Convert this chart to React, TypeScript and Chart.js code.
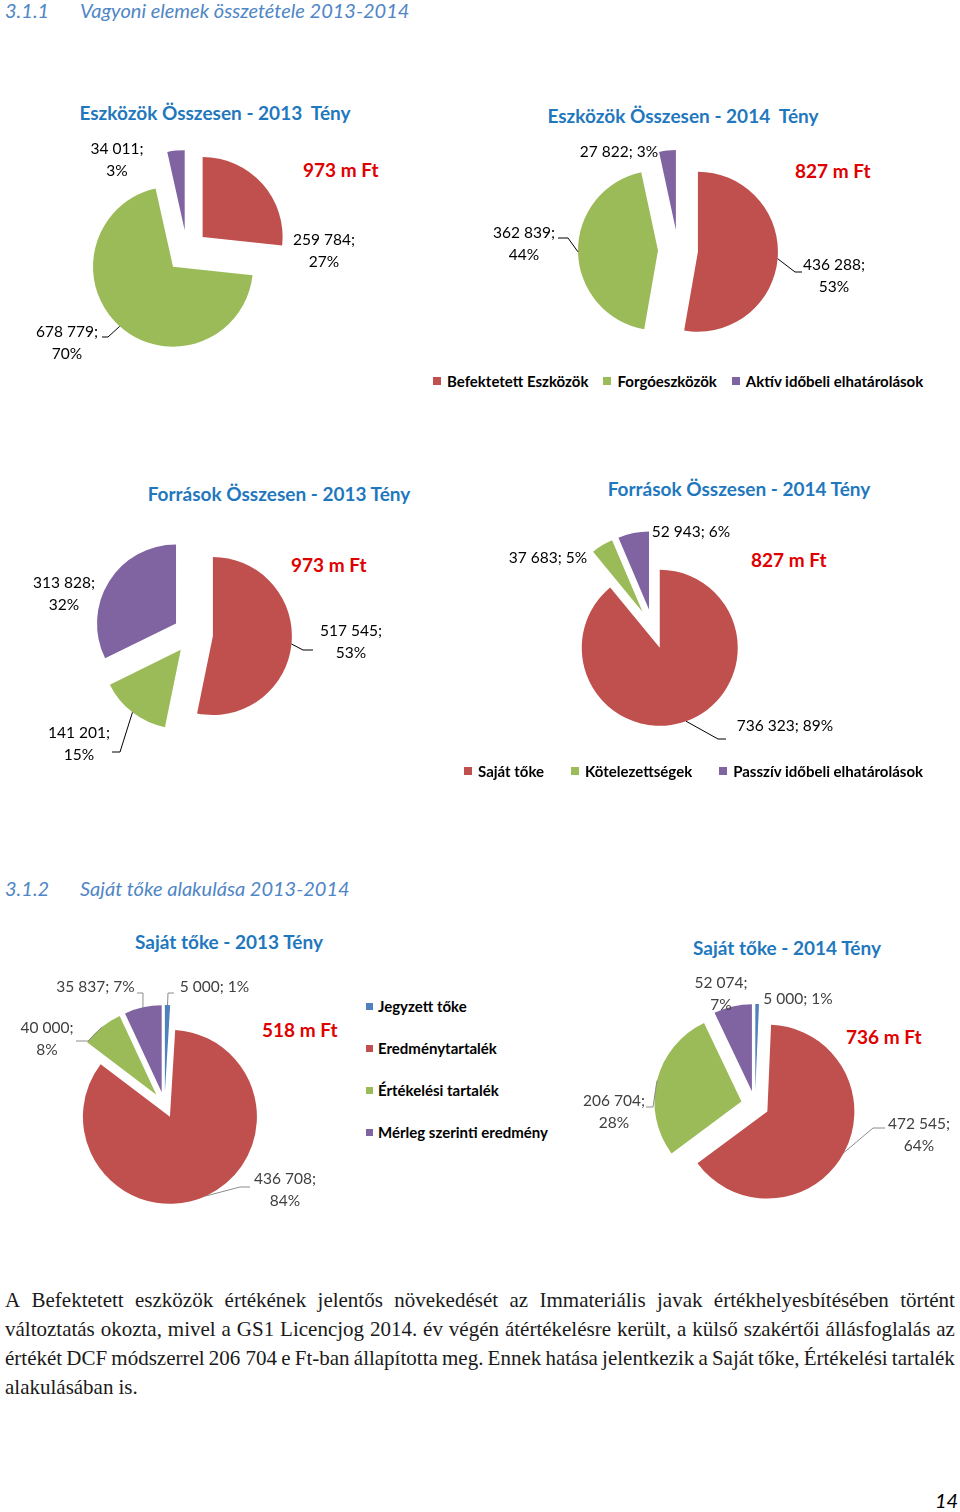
import React, { useEffect, useRef } from 'react';
import { Chart, registerables } from 'chart.js';

Chart.register(...registerables);

const RED = '#C0504D';
const GREEN = '#9BBB59';
const PURPLE = '#8064A2';
const BLUE = '#4F81BD';
const TITLE_BLUE = '#1F78BE';
const HEAD_BLUE = '#4F86C6';
const TOTAL_RED = '#E00000';
const FONT = 'Lato, "Open Sans", sans-serif';

// ---------- data ----------
const assetCategories = ['Befektetett Eszközök', 'Forgóeszközök', 'Aktív időbeli elhatárolások'];
const assets2013 = [259784, 678779, 34011];
const assets2014 = [436288, 362839, 27822];

const sourceCategories = ['Saját tőke', 'Kötelezettségek', 'Passzív időbeli elhatárolások'];
const sources2013 = [517545, 141201, 313828];
const sources2014 = [736323, 37683, 52943];

const equityCategories = ['Jegyzett tőke', 'Eredménytartalék', 'Értékelési tartalék', 'Mérleg szerinti eredmény'];
const equity2013 = [5000, 436708, 40000, 35837];
const equity2014 = [5000, 472545, 206704, 52074];

const threeColors = [RED, GREEN, PURPLE];
const fourColors = [BLUE, RED, GREEN, PURPLE];

const paragraphLines = [
  'A Befektetett eszközök értékének jelentős növekedését az Immateriális javak értékhelyesbítésében történt',
  'változtatás okozta, mivel a GS1 Licencjog 2014. év végén átértékelésre került, a külső szakértői állásfoglalás az',
  'értékét DCF módszerrel 206\u00a0704 e Ft-ban állapította meg. Ennek hatása jelentkezik a Saját tőke, Értékelési tartalék',
  'alakulásában is.',
];

// ---------- helpers ----------
const fmt = (v: number) => String(v).replace(/\B(?=(\d{3})+(?!\d))/g, ' ');
const sum = (a: number[]) => a.reduce((s, v) => s + v, 0);

interface LabelSpec {
  x: number;
  y: number;
  split: boolean;
  leader?: number[][];
}

interface PieSpec {
  title: string;
  titleX: number;
  titleY: number;
  totalX: number;
  totalY: number;
  categories: string[];
  values: number[];
  colors: string[];
  box: { left: number; top: number; width: number; height: number };
  center: [number, number];
  radius: number;
  explode: number;
  labels: LabelSpec[];
  textColor: string;
  lineColor: string;
}

const pies: PieSpec[] = [
  {
    title: 'Eszközök Összesen - 2013  Tény',
    titleX: 215, titleY: 113, totalX: 303, totalY: 170,
    categories: assetCategories, values: assets2013, colors: threeColors,
    box: { left: 0, top: 130, width: 480, height: 235 },
    center: [187, 251], radius: 80, explode: 21,
    labels: [
      { x: 324, y: 240, split: true },
      { x: 67, y: 332, split: true, leader: [[108, 337], [102, 337]] },
      { x: 117, y: 149, split: true },
    ],
    textColor: '#000', lineColor: '#000',
  },
  {
    title: 'Eszközök Összesen - 2014  Tény',
    titleX: 683, titleY: 116, totalX: 795, totalY: 171,
    categories: assetCategories, values: assets2014, colors: threeColors,
    box: { left: 480, top: 130, width: 480, height: 235 },
    center: [678, 250], radius: 80, explode: 20,
    labels: [
      { x: 834, y: 265, split: true, leader: [[795, 272], [802, 272]] },
      { x: 524, y: 233, split: true, leader: [[568, 238], [558, 238]] },
      { x: 619, y: 152, split: false },
    ],
    textColor: '#000', lineColor: '#000',
  },
  {
    title: 'Források Összesen - 2013 Tény',
    titleX: 279, titleY: 494, totalX: 291, totalY: 565,
    categories: sourceCategories, values: sources2013, colors: threeColors,
    box: { left: 0, top: 520, width: 480, height: 250 },
    center: [193, 634], radius: 79, explode: 20,
    labels: [
      { x: 351, y: 631, split: true, leader: [[303, 650], [313, 650]] },
      { x: 79, y: 733, split: true, leader: [[120, 752], [112, 752]] },
      { x: 64, y: 583, split: true },
    ],
    textColor: '#000', lineColor: '#000',
  },
  {
    title: 'Források Összesen - 2014 Tény',
    titleX: 739, titleY: 489, totalX: 751, totalY: 560,
    categories: sourceCategories, values: sources2014, colors: threeColors,
    box: { left: 480, top: 515, width: 480, height: 240 },
    center: [653, 629], radius: 78, explode: 20,
    labels: [
      { x: 785, y: 726, split: false, leader: [[718, 739], [726, 739]] },
      { x: 548, y: 558, split: false },
      { x: 691, y: 532, split: false },
    ],
    textColor: '#000', lineColor: '#000',
  },
  {
    title: 'Saját tőke - 2013 Tény',
    titleX: 229, titleY: 942, totalX: 262, totalY: 1030,
    categories: equityCategories, values: equity2013, colors: fourColors,
    box: { left: 0, top: 970, width: 360, height: 250 },
    center: [164.5, 1105], radius: 87, explode: 13,
    labels: [
      { x: 214.5, y: 987, split: false, leader: [[168, 993], [174, 993]] },
      { x: 285, y: 1179, split: true, leader: [[240, 1187], [250, 1187]] },
      { x: 47, y: 1028, split: true, leader: [[88, 1041], [76, 1041]] },
      { x: 95.5, y: 987, split: false, leader: [[143, 993], [137, 993]] },
    ],
    textColor: '#404040', lineColor: '#8c8c8c',
  },
  {
    title: 'Saját tőke - 2014 Tény',
    titleX: 787, titleY: 948, totalX: 846, totalY: 1037,
    categories: equityCategories, values: equity2014, colors: fourColors,
    box: { left: 560, top: 965, width: 400, height: 250 },
    center: [755, 1105], radius: 87, explode: 14,
    labels: [
      { x: 798, y: 999, split: false },
      { x: 919, y: 1124, split: true, leader: [[873, 1128], [885, 1128]] },
      { x: 614, y: 1101, split: true, leader: [[653, 1107], [646, 1107]] },
      { x: 721, y: 983, split: true },
    ],
    textColor: '#404040', lineColor: '#8c8c8c',
  },
];

function PieChart({ spec }: { spec: PieSpec }) {
  const ref = useRef<HTMLCanvasElement>(null);
  useEffect(() => {
    const canvas = ref.current;
    if (!canvas) return;
    const { box, center, radius, explode } = spec;
    const cx = center[0] - box.left;
    const cy = center[1] - box.top;
    const s = radius + explode + 2;
    const total = sum(spec.values);

    const explodePlugin = {
      id: 'explodeSlices',
      beforeDatasetsDraw(chart: any) {
        chart.getDatasetMeta(0).data.forEach((arc: any) => {
          if (arc.__exploded) return;
          const draw = arc.draw.bind(arc);
          arc.draw = (ctx: CanvasRenderingContext2D, area: any) => {
            const mid = (arc.startAngle + arc.endAngle) / 2;
            ctx.save();
            ctx.translate(Math.cos(mid) * explode, Math.sin(mid) * explode);
            draw(ctx, area);
            ctx.restore();
          };
          arc.__exploded = true;
        });
      },
    };

    const labelPlugin = {
      id: 'sliceLabels',
      afterDatasetsDraw(chart: any) {
        const ctx: CanvasRenderingContext2D = chart.ctx;
        const arcs = chart.getDatasetMeta(0).data;
        ctx.save();
        ctx.font = `15.5px ${FONT}`;
        ctx.textAlign = 'center';
        ctx.textBaseline = 'middle';
        spec.labels.forEach((lab, i) => {
          const arc = arcs[i];
          const v = spec.values[i];
          const pct = Math.round((v / total) * 100);
          if (lab.leader) {
            const p = arc.getProps(['x', 'y', 'startAngle', 'endAngle', 'outerRadius'], true);
            const mid = (p.startAngle + p.endAngle) / 2;
            const ex = p.x + Math.cos(mid) * (explode + p.outerRadius);
            const ey = p.y + Math.sin(mid) * (explode + p.outerRadius);
            ctx.strokeStyle = spec.lineColor;
            ctx.lineWidth = 1;
            ctx.beginPath();
            ctx.moveTo(ex, ey);
            lab.leader.forEach(([lx, ly]) => ctx.lineTo(lx - box.left, ly - box.top));
            ctx.stroke();
          }
          ctx.fillStyle = spec.textColor;
          const tx = lab.x - box.left;
          const ty = lab.y - box.top;
          if (lab.split) {
            ctx.fillText(`${fmt(v)};`, tx, ty);
            ctx.fillText(`${pct}%`, tx, ty + 22);
          } else {
            ctx.fillText(`${fmt(v)}; ${pct}%`, tx, ty);
          }
        });
        ctx.restore();
      },
    };

    const chart = new Chart(canvas, {
      type: 'pie',
      data: {
        labels: spec.categories,
        datasets: [
          {
            data: spec.values,
            backgroundColor: spec.colors,
            borderWidth: 0,
            offset: 0,
            hoverOffset: 0,
          },
        ],
      },
      options: {
        responsive: false,
        animation: false,
        events: [],
        radius,
        layout: {
          padding: {
            left: cx - s,
            top: cy - s,
            right: box.width - cx - s,
            bottom: box.height - cy - s,
          },
        },
        plugins: {
          legend: { display: false },
          tooltip: { enabled: false },
        },
      } as any,
      plugins: [explodePlugin, labelPlugin] as any,
    });
    return () => chart.destroy();
  }, [spec]);

  const { box } = spec;
  return (
    <canvas
      ref={ref}
      width={box.width}
      height={box.height}
      style={{ position: 'absolute', left: box.left, top: box.top, width: box.width, height: box.height }}
    />
  );
}

function Centered({ x, y, text, style }: { x: number; y: number; text: string; style: React.CSSProperties }) {
  return (
    <div
      style={{
        position: 'absolute', left: x - 250, top: y - 14, width: 500, height: 28, lineHeight: '28px',
        textAlign: 'center', whiteSpace: 'pre', ...style,
      }}
    >
      {text}
    </div>
  );
}

function LeftText({ x, y, text, style }: { x: number; y: number; text: string; style: React.CSSProperties }) {
  return (
    <div style={{ position: 'absolute', left: x, top: y - 14, height: 28, lineHeight: '28px', whiteSpace: 'pre', ...style }}>
      {text}
    </div>
  );
}

function LegendRow({ x, y, items, colors, gap }: { x: number; y: number; items: string[]; colors: string[]; gap: number }) {
  return (
    <div style={{ position: 'absolute', left: x, top: y - 10, height: 20, display: 'flex', alignItems: 'center', whiteSpace: 'nowrap' }}>
      {items.map((it, i) => (
        <div key={it} style={{ display: 'flex', alignItems: 'center', marginRight: gap }}>
          <span style={{ width: 8, height: 8, background: colors[i], marginRight: 6, display: 'inline-block' }} />
          <span style={{ fontFamily: FONT, fontWeight: 700, fontSize: 15, color: '#000' }}>{it}</span>
        </div>
      ))}
    </div>
  );
}

function LegendColumn({ x, y, items, colors, step }: { x: number; y: number; items: string[]; colors: string[]; step: number }) {
  return (
    <>
      {items.map((it, i) => (
        <div
          key={it}
          style={{ position: 'absolute', left: x, top: y + i * step - 10, height: 20, display: 'flex', alignItems: 'center', whiteSpace: 'nowrap' }}
        >
          <span style={{ width: 7, height: 7, background: colors[i], marginRight: 5, display: 'inline-block' }} />
          <span style={{ fontFamily: FONT, fontWeight: 700, fontSize: 15, color: '#000' }}>{it}</span>
        </div>
      ))}
    </>
  );
}

export default function App() {
  const headStyle: React.CSSProperties = { fontFamily: FONT, fontStyle: 'italic', fontWeight: 400, fontSize: 20, color: HEAD_BLUE };
  const titleStyle: React.CSSProperties = { fontFamily: FONT, fontWeight: 700, fontSize: 19, color: TITLE_BLUE };
  const totalStyle: React.CSSProperties = { fontFamily: FONT, fontWeight: 700, fontSize: 19, color: TOTAL_RED };

  return (
    <div style={{ position: 'absolute', left: 0, top: 0, width: 960, height: 1512, background: '#fff', overflow: 'hidden' }}>
      <LeftText x={5} y={10} text="3.1.1" style={headStyle} />
      <LeftText x={80} y={10} text="Vagyoni elemek összetétele 2013-2014" style={headStyle} />
      <LeftText x={5} y={888} text="3.1.2" style={headStyle} />
      <LeftText x={80} y={888} text="Saját tőke alakulása 2013-2014" style={headStyle} />

      {pies.map((p, i) => (
        <React.Fragment key={i}>
          <Centered x={p.titleX} y={p.titleY} text={p.title} style={titleStyle} />
          <LeftText x={p.totalX} y={p.totalY} text={`${Math.round(sum(p.values) / 1000)} m Ft`} style={totalStyle} />
          <PieChart spec={p} />
        </React.Fragment>
      ))}

      <LegendRow x={433} y={381} items={assetCategories} colors={threeColors} gap={15} />
      <LegendRow x={464} y={771} items={sourceCategories} colors={threeColors} gap={27} />
      <LegendColumn x={366} y={1006} items={equityCategories} colors={fourColors} step={42} />

      {paragraphLines.map((line, i) => (
        <div
          key={i}
          style={{
            position: 'absolute', left: 5, top: 1300 + i * 29 - 15, width: 950, height: 30, lineHeight: '30px',
            fontFamily: '"Liberation Serif", "Times New Roman", serif', fontSize: 21, color: '#1a1a1a',
            display: 'flex', justifyContent: i < paragraphLines.length - 1 ? 'space-between' : 'flex-start',
            gap: i < paragraphLines.length - 1 ? 0 : 5, whiteSpace: 'nowrap',
          }}
        >
          {line.split(' ').map((w, j) => (
            <span key={j}>{w}</span>
          ))}
        </div>
      ))}

      <LeftText x={935} y={1500} text="14" style={{ fontFamily: FONT, fontStyle: 'italic', fontSize: 20, color: '#000' }} />
    </div>
  );
}
